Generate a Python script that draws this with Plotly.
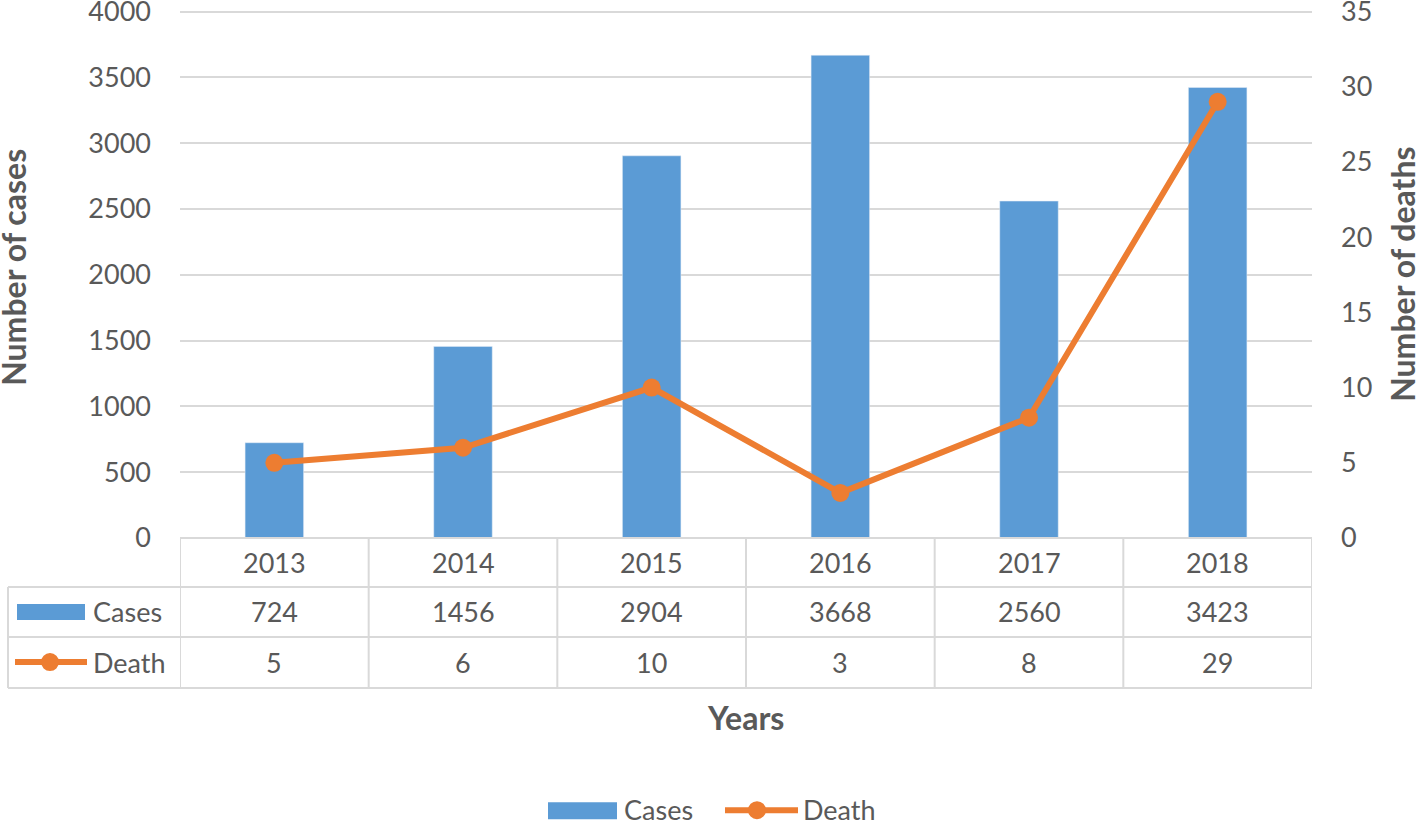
import plotly.graph_objects as go

years = ["2013", "2014", "2015", "2016", "2017", "2018"]
cases = [724, 1456, 2904, 3668, 2560, 3423]
deaths = [5, 6, 10, 3, 8, 29]
cases_ticks = list(range(0, 4001, 500))
deaths_ticks = list(range(0, 36, 5))

W, H = 1418, 821
L, R, B = 180, 1312, 538  # plot area in pixels
TOP_PX = 12               # pixel where the max tick sits
EXT = 1.0125              # small headroom so the top gridline is kept
FONT = "Lato, 'Open Sans', sans-serif"
TXT = "#595959"
GRID = "#D9D9D9"
BLUE = "#5B9BD5"
ORANGE = "#ED7D31"
FS = 27
FT = 32

T = B - (B - TOP_PX) * EXT


def px(x):
    return (x - L) / (R - L)


def py(y):
    return (B - y) / (B - T)


xs = list(range(len(years)))

fig = go.Figure()
fig.add_trace(go.Bar(x=xs, y=cases, name="Cases", marker_color=BLUE, width=0.31,
                     yaxis="y"))
fig.add_trace(go.Scatter(x=xs, y=deaths, name="Death", mode="lines+markers",
                         line=dict(color=ORANGE, width=6),
                         marker=dict(color=ORANGE, size=18), yaxis="y2"))

shapes = []
ann = []
line = dict(color=GRID, width=2)

# table horizontal lines
row_y = [538, 587, 637, 688]
for i, yy in enumerate(row_y):
    x0 = px(180) if i == 0 else px(8)
    shapes.append(dict(type="line", xref="paper", yref="paper", x0=x0, x1=1,
                       y0=py(yy), y1=py(yy), line=line, layer="above"))
# vertical lines
for i in range(len(years) + 1):
    shapes.append(dict(type="line", xref="x", yref="paper", x0=i - 0.5, x1=i - 0.5,
                       y0=py(538), y1=py(688), line=line))
shapes.append(dict(type="line", xref="paper", yref="paper", x0=px(8), x1=px(8),
                   y0=py(587), y1=py(688), line=line))

rows = [(years, 562), ([str(v) for v in cases], 611), ([str(v) for v in deaths], 662)]
for labels, yy in rows:
    for i, lab in enumerate(labels):
        ann.append(dict(x=i, xref="x", y=py(yy), yref="paper", text=lab, showarrow=False,
                        font=dict(size=FS, color=TXT, family=FONT),
                        xanchor="center", yanchor="middle"))

# table legend keys
shapes.append(dict(type="rect", xref="paper", yref="paper", x0=px(17), x1=px(85),
                   y0=py(620), y1=py(604), fillcolor=BLUE, line=dict(width=0)))
shapes.append(dict(type="line", xref="paper", yref="paper", x0=px(15), x1=px(87),
                   y0=py(662), y1=py(662), line=dict(color=ORANGE, width=6)))
shapes.append(dict(type="circle", xref="paper", yref="paper", x0=px(41), x1=px(59),
                   y0=py(671), y1=py(653), fillcolor=ORANGE, line=dict(width=0)))
ann.append(dict(x=px(91), xref="paper", y=py(611), yref="paper", text="Cases",
                showarrow=False, xanchor="left", yanchor="middle",
                font=dict(size=FS, color=TXT, family=FONT)))
ann.append(dict(x=px(91), xref="paper", y=py(662), yref="paper", text="Death",
                showarrow=False, xanchor="left", yanchor="middle",
                font=dict(size=FS, color=TXT, family=FONT)))

# bottom legend
shapes.append(dict(type="rect", xref="paper", yref="paper", x0=px(548), x1=px(617),
                   y0=py(819), y1=py(802), fillcolor=BLUE, line=dict(width=0)))
shapes.append(dict(type="line", xref="paper", yref="paper", x0=px(725), x1=px(798),
                   y0=py(810), y1=py(810), line=dict(color=ORANGE, width=6)))
shapes.append(dict(type="circle", xref="paper", yref="paper", x0=px(748), x1=px(766),
                   y0=py(819), y1=py(801), fillcolor=ORANGE, line=dict(width=0)))
ann.append(dict(x=px(622), xref="paper", y=py(809), yref="paper", text="Cases",
                showarrow=False, xanchor="left", yanchor="middle",
                font=dict(size=FS, color=TXT, family=FONT)))
ann.append(dict(x=px(801), xref="paper", y=py(809), yref="paper", text="Death",
                showarrow=False, xanchor="left", yanchor="middle",
                font=dict(size=FS, color=TXT, family=FONT)))

# axis titles
ann.append(dict(x=px(745), xref="paper", y=py(717), yref="paper", text="<b>Years</b>",
                showarrow=False, xanchor="center", yanchor="middle",
                font=dict(size=FT, color=TXT, family=FONT)))
ann.append(dict(x=px(14), xref="paper", y=py(268), yref="paper",
                text="<b>Number of cases</b>", textangle=-90,
                showarrow=False, xanchor="center", yanchor="middle",
                font=dict(size=FT, color=TXT, family=FONT)))
ann.append(dict(x=px(1403), xref="paper", y=py(275), yref="paper",
                text="<b>Number of deaths</b>", textangle=-90,
                showarrow=False, xanchor="center", yanchor="middle",
                font=dict(size=FT, color=TXT, family=FONT)))

fig.update_layout(
    width=W, height=H,
    margin=dict(l=L, r=W - R, t=T, b=H - B, pad=0, autoexpand=False),
    paper_bgcolor="white", plot_bgcolor="white",
    showlegend=False,
    font=dict(family=FONT, color=TXT, size=FS),
    xaxis=dict(range=[-0.5, len(years) - 0.5], showticklabels=False, showgrid=False,
               zeroline=False, showline=False, ticks="", automargin=False),
    yaxis=dict(range=[0, max(cases_ticks) * EXT], tickvals=cases_ticks, gridcolor=GRID,
               gridwidth=2, zeroline=False, showline=False, ticks="",
               tickfont=dict(size=FS, color=TXT), ticklabelstandoff=28,
               ticklabeloverflow="allow", automargin=False),
    yaxis2=dict(range=[0, max(deaths_ticks) * EXT], tickvals=deaths_ticks, overlaying="y",
                side="right", showgrid=False, zeroline=False, showline=False, ticks="",
                tickfont=dict(size=FS, color=TXT), ticklabelstandoff=28,
                ticklabeloverflow="allow", automargin=False),
    shapes=shapes, annotations=ann,
)

fig.write_html("out.html", config={"displayModeBar": False},
               post_script="document.body.style.margin='0';document.body.style.overflow='hidden';")
